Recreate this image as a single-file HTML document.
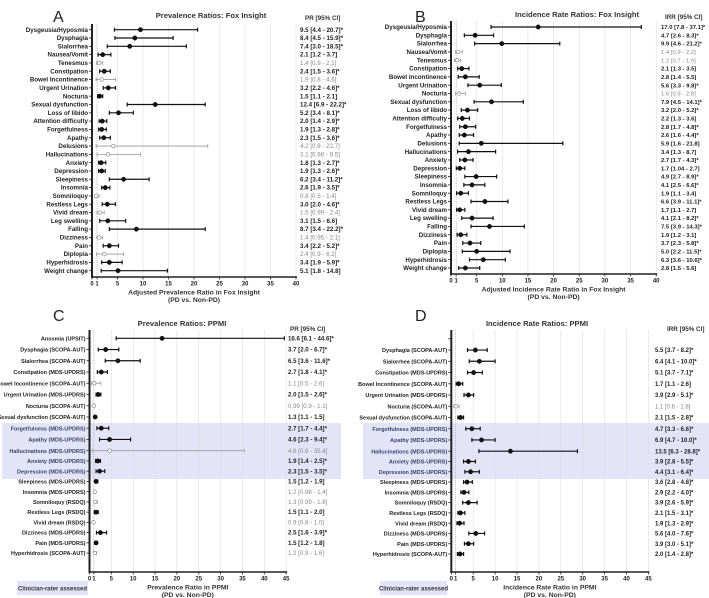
<!DOCTYPE html>
<html><head><meta charset="utf-8"><style>
html,body{margin:0;padding:0;background:#fff;}
svg{display:block;font-family:"Liberation Sans",Arial,sans-serif;}
</style></head><body>
<svg id="chart" width="709" height="598" viewBox="0 0 709 598" xmlns="http://www.w3.org/2000/svg"></svg>
<script>
// ---- Panel A: Prevalence Ratios Fox Insight ----
const labelsA = ["Dysgeusia/Hyposmia","Dysphagia","Sialorrhea","Nausea/Vomit","Tenesmus","Constipation","Bowel Incontinence","Urgent Urination","Nocturia","Sexual dysfunction","Loss of libido","Attention difficulty","Forgetfulness","Apathy","Delusions","Hallucinations","Anxiety","Depression","Sleepiness","Insomnia","Somniloquy","Restless Legs","Vivid dream","Leg swelling","Falling","Dizziness","Pain","Diplopia","Hyperhidrosis","Weight change"];
const estA = [9.5,8.4,7.4,2.1,1.4,2.4,1.9,3.2,1.5,12.4,5.2,2.0,1.9,2.3,4.2,3.1,1.8,1.9,6.2,2.6,0.8,3.0,1.5,3.1,8.7,1.4,3.4,2.4,3.4,5.1];
const loA = [4.4,4.5,3.0,1.2,0.9,1.5,0.8,2.2,1.1,6.9,3.4,1.4,1.3,1.5,0.8,0.98,1.3,1.3,3.4,1.9,0.5,2.0,0.99,1.5,3.4,0.95,2.2,0.9,1.9,1.8];
const hiA = [20.7,15.9,18.5,3.7,2.1,3.6,4.6,4.6,2.1,22.2,8.1,2.9,2.8,3.6,22.7,9.5,2.7,2.6,11.2,3.5,1.4,4.6,2.4,6.6,22.2,2.1,5.2,6.2,5.9,14.8];
const sigA = [1,1,1,1,0,1,0,1,1,1,1,1,1,1,0,0,1,1,1,1,0,1,0,1,1,0,1,0,1,1];
const starA = [1,1,1,0,0,1,0,1,0,1,1,1,1,1,0,0,1,1,1,1,0,1,0,0,1,0,1,0,1,0];
const ticksA = [0,1,5,10,15,20,25,30,35,40];

// ---- Panel B: Incidence Rate Ratios Fox Insight ----
const labelsB = labelsA.slice();
const estB = [17.0,4.7,9.9,1.4,1.2,2.1,2.8,5.6,1.6,7.9,3.2,2.2,2.8,2.6,5.9,3.4,2.7,1.7,4.9,4.1,1.9,6.6,1.7,4.1,7.5,1.9,3.7,5.0,6.3,2.8];
const loB = [7.8,2.6,4.6,0.9,0.7,1.3,1.4,3.3,0.9,4.5,2.0,1.3,1.7,1.6,1.6,1.3,1.7,1.04,2.7,2.5,1.1,3.9,1.1,2.1,3.9,1.2,2.3,2.2,3.6,1.5];
const hiB = [37.1,8.3,21.2,2.2,1.9,3.5,5.5,9.8,2.8,14.1,5.2,3.6,4.8,4.4,21.8,8.7,4.3,2.7,8.9,6.6,3.4,11.1,2.7,8.2,14.3,3.1,5.8,11.5,10.6,5.6];
const sigB = [1,1,1,0,0,1,1,1,0,1,1,1,1,1,1,1,1,1,1,1,1,1,1,1,1,1,1,1,1,1];
const starB = [1,1,1,0,0,0,0,1,0,1,1,0,1,1,0,0,1,0,1,1,0,1,0,1,1,0,1,1,1,0];
const ticksB = ticksA.slice();

// ---- Panel C: Prevalence Ratios PPMI ----
const labelsC = ["Anosmia (UPSIT)","Dysphagia (SCOPA-AUT)","Sialorrhea (SCOPA-AUT)","Constipation (MDS-UPDRS)","Bowel Incontinence (SCOPA-AUT)","Urgent Urination (MDS-UPDRS)","Nocturia (SCOPA-AUT)","Sexual dysfunction (SCOPA-AUT)","Forgetfulness (MDS-UPDRS)","Apathy (MDS-UPDRS)","Hallucinations (MDS-UPDRS)","Anxiety (MDS-UPDRS)","Depression (MDS-UPDRS)","Sleepiness (MDS-UPDRS)","Insomnia (MDS-UPDRS)","Somniloquy (RSDQ)","Restless Legs (RSDQ)","Vivid dream (RSDQ)","Dizziness (MDS-UPDRS)","Pain (MDS-UPDRS)","Hyperhidrosis (SCOPA-AUT)"];
const estC = [16.6,3.7,6.5,2.7,1.1,2.0,0.99,1.3,2.7,4.6,4.6,1.9,2.3,1.5,1.2,1.3,1.5,0.9,2.5,1.5,1.2];
const loC = [6.1,2.0,3.6,1.8,0.5,1.5,0.9,1.1,1.7,2.3,0.6,1.4,1.5,1.2,0.98,0.99,1.1,0.8,1.6,1.2,0.9];
const hiC = [44.6,6.7,11.6,4.1,2.6,2.6,1.1,1.5,4.4,9.4,35.4,2.5,3.5,1.9,1.4,1.8,2.0,1.0,3.9,1.8,1.6];
const sigC = [1,1,1,1,0,1,0,1,1,1,0,1,1,1,0,0,1,0,1,1,0];
const starC = [1,1,1,1,0,1,0,0,1,1,0,1,1,0,0,0,0,0,1,0,0];
const ticksC = [0,1,5,10,15,20,25,30,35,40,45];

// ---- Panel D: Incidence Rate Ratios PPMI (row 0 empty) ----
const labelsD = ["","Dysphagia (SCOPA-AUT)","Sialorrhea (SCOPA-AUT)","Constipation (MDS-UPDRS)","Bowel Incontinence (SCOPA-AUT)","Urgent Urination (MDS-UPDRS)","Nocturia (SCOPA-AUT)","Sexual dysfunction (SCOPA-AUT)","Forgetfulness (MDS-UPDRS)","Apathy (MDS-UPDRS)","Hallucinations (MDS-UPDRS)","Anxiety (MDS-UPDRS)","Depression (MDS-UPDRS)","Sleepiness (MDS-UPDRS)","Insomnia (MDS-UPDRS)","Somniloquy (RSDQ)","Restless Legs (RSDQ)","Vivid dream (RSDQ)","Dizziness (MDS-UPDRS)","Pain (MDS-UPDRS)","Hyperhidrosis (SCOPA-AUT)"];
const estD = [null,5.5,6.4,5.1,1.7,3.9,1.1,2.1,4.7,6.9,13.5,3.9,4.4,3.6,2.9,3.9,2.1,1.9,5.6,3.9,2.0];
const loD = [null,3.7,4.1,3.7,1.1,2.9,0.6,1.5,3.3,4.7,6.3,2.8,3.1,2.8,2.2,2.6,1.5,1.3,4.0,3.0,1.4];
const hiD = [null,8.2,10.0,7.1,2.6,5.1,1.8,2.8,6.6,10.0,28.8,5.5,6.4,4.8,4.0,5.9,3.1,2.9,7.6,5.1,2.8];
const sigD = [0,1,1,1,1,1,0,1,1,1,1,1,1,1,1,1,1,1,1,1,1];
const starD = [0,1,1,1,0,1,0,1,1,1,1,1,1,1,1,1,1,1,1,1,1];
const ticksD = ticksC.slice();

const svg = document.getElementById('chart');
const NS = 'http://www.w3.org/2000/svg';
function mk(tag, attrs, parent, text){
  const e = document.createElementNS(NS, tag);
  for (const k in attrs) e.setAttribute(k, attrs[k]);
  if (text !== undefined) e.textContent = text;
  (parent||svg).appendChild(e);
  return e;
}
function fmt(v){ return Math.abs(v*10-Math.round(v*10))<1e-9 ? v.toFixed(1) : String(v); }

function panel(p){
  const g = mk('g', {});
  
  
  const x = v => p.x0 + v*p.sc;
  const y = i => p.rowY(i);
  if (p.band){
    const b = mk('rect', {x:p.band[0], y:p.band[1], width:p.band[2], height:p.band[3], fill:'#e4e4f8'}, g);
    
    
  }
  p.ticks.forEach(t=>{
    if (t===0) return;
    const gl = mk('line', {x1:x(t), x2:x(t), y1:p.top, y2:p.axisY, stroke: t===1?'#999':'#ddd', 'stroke-width':0.6, 'stroke-dasharray': t===1?'1,1':''}, g);
    
    
  });
  const ya = mk('line', {x1:p.x0, x2:p.x0, y1:p.top, y2:p.axisY+1, stroke:'#222', 'stroke-width':2}, g);
  
  
  const xa = mk('line', {x1:p.x0-1, x2:x(p.ticks[p.ticks.length-1])+1, y1:p.axisY, y2:p.axisY, stroke:'#222', 'stroke-width':1.5}, g);
  
  
  p.ticks.forEach(t=>{
    mk('line', {x1:x(t), x2:x(t), y1:p.axisY, y2:p.axisY+2.5, stroke:'#222', 'stroke-width':0.8}, g);
    const tl = mk('text', {x:x(t), y:p.axisY+8.5, 'font-size':6, 'text-anchor':'middle', fill:'#222', 'font-weight':'bold'}, g, String(t));
    
    
  });
  p.labels.forEach((lab,i)=>{
    const yy = y(i);
    mk('line', {x1:p.x0-3, x2:p.x0, y1:yy, y2:yy, stroke:'#222', 'stroke-width':0.8}, g);
    if (lab){
      const t = mk('text', {x:p.x0-4, y:yy+2.1, 'font-size':p.fs, 'text-anchor':'end', 'font-weight':'bold', fill:(p.band && i>=8 && i<=12)?'#3b3f66':'#222'}, g, lab);
      
      
    }
    if (p.est[i]===null) return;
    const s = p.sig[i];
    const col = s ? '#111' : '#999';
    const sw = s ? 1.2 : 0.8;
    const ci = mk('line', {x1:x(p.lo[i]), x2:x(p.hi[i]), y1:yy, y2:yy, stroke:col, 'stroke-width':sw}, g);
    
    
    mk('line', {x1:x(p.lo[i]), x2:x(p.lo[i]), y1:yy-2, y2:yy+2, stroke:col, 'stroke-width':sw}, g);
    mk('line', {x1:x(p.hi[i]), x2:x(p.hi[i]), y1:yy-2, y2:yy+2, stroke:col, 'stroke-width':sw}, g);
    const pt = mk('circle', {cx:x(p.est[i]), cy:yy, r:s?2.2:1.8, fill:s?'#111':'#fff', stroke:col, 'stroke-width':s?0.5:0.8}, g);
    
    
    const txt = fmt(p.est[i])+' ['+fmt(p.lo[i])+' - '+fmt(p.hi[i])+']'+(p.star[i]?'*':'');
    const vt = mk('text', {x:p.valX, y:yy+2.1, 'font-size':p.vfs, 'font-weight':s?'bold':'normal', fill:s?'#222':'#888'}, g, txt);
    
    
  });
  const lt = mk('text', {x:p.letter[0], y:p.letter[1], 'font-size':16, fill:'#222'}, g, p.letterT);
  
  
  const ti = mk('text', {x:p.title[0], y:p.title[1], 'font-size':7.6, 'font-weight':'bold', 'text-anchor':'middle', fill:'#333'}, g, p.titleT);
  
  
  const hd = mk('text', {x:p.head[0], y:p.head[1], 'font-size':6.3, 'font-weight':'bold', fill:'#333'}, g, p.headT);
  
  
  const xc = (x(0)+x(p.ticks[p.ticks.length-1]))/2;
  const xt = mk('text', {x:xc, y:p.axisY+17.5, 'font-size':6.8, 'font-weight':'bold', 'text-anchor':'middle', fill:'#333'}, g, p.xT);
  
  
  const xs = mk('text', {x:xc, y:p.axisY+25, 'font-size':6.8, 'font-weight':'bold', 'text-anchor':'middle', fill:'#333'}, g, '(PD vs. Non-PD)');
  
  
  if (p.legend){
    const lr = mk('rect', {x:p.legend[0], y:p.legend[1], width:p.legend[2], height:14, fill:'#e4e4f8'}, g);
    
    
    const ltx = mk('text', {x:p.legend[0]+p.legend[2]/2, y:p.legend[1]+9.5, 'font-size':6, 'font-weight':'bold', 'text-anchor':'middle', fill:'#333'}, g, 'Clinician-rater assessed');
    
    
  }
}

panel({name:'panel-a', x0:92, sc:5.1, top:24, axisY:277, rowY:i=>29.7+i*8.31, fs:6.2, vfs:6.2,
  labels:labelsA, est:estA, lo:loA, hi:hiA, sig:sigA, star:starA, ticks:ticksA, valX:300,
  letter:[53,22], letterT:'A', title:[211,18], titleT:'Prevalence Ratios: Fox Insight',
  head:[305,20], headT:'PR [95% CI]', xT:'Adjusted Prevalence Ratio in Fox Insight'});
panel({name:'panel-b', x0:451, sc:5.13, top:21, axisY:274, rowY:i=>27+i*8.31, fs:6.2, vfs:5.9,
  labels:labelsB, est:estB, lo:loB, hi:hiB, sig:sigB, star:starB, ticks:ticksB, valX:661,
  letter:[415,22], letterT:'B', title:[577,17], titleT:'Incidence Rate Ratios: Fox Insight',
  head:[665,19], headT:'IRR [95% CI]', xT:'Adjusted Incidence Rate Ratio in Fox Insight'});
const rowC = i => i<=10 ? 338.3+i*11.24 : 450.7+(i-10)*10.24;
panel({name:'panel-c', x0:89.5, sc:4.37, top:330, axisY:572, rowY:rowC, fs:5.5, vfs:6.1,
  labels:labelsC, est:estC, lo:loC, hi:hiC, sig:sigC, star:starC, ticks:ticksC, valX:288,
  letter:[53,321], letterT:'C', title:[182,326], titleT:'Prevalence Ratios: PPMI',
  head:[290,331], headT:'PR [95% CI]', xT:'Prevalence Ratio in PPMI',
  band:[2,423,339,56], legend:[17,581,71]});
const rowD = i => i<=10 ? 338.8+i*11.24 : 451.2+(i-10)*10.28;
panel({name:'panel-d', x0:451.3, sc:4.38, top:330, axisY:572, rowY:rowD, fs:5.5, vfs:6.0,
  labels:labelsD, est:estD, lo:loD, hi:hiD, sig:sigD, star:starD, ticks:ticksD, valX:655,
  letter:[415,321], letterT:'D', title:[537,326], titleT:'Incidence Rate Ratios: PPMI',
  head:[667,331], headT:'IRR [95% CI]', xT:'Incidence Rate Ratio in PPMI',
  band:[363,423,346,56], legend:[380,581,67]});
</script>
</body></html>
